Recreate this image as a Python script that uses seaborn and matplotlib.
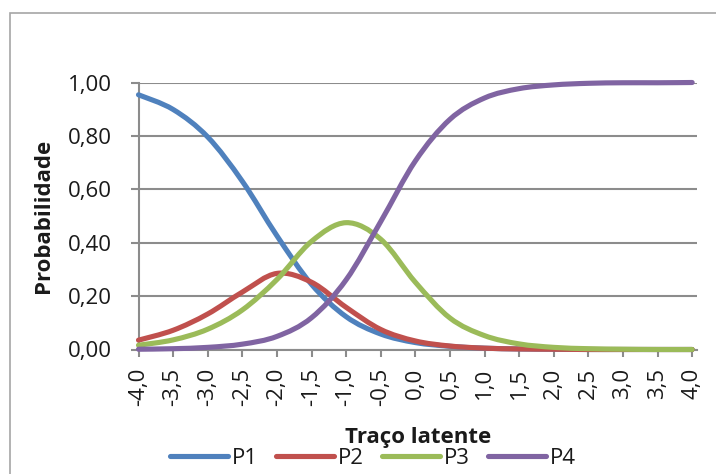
import matplotlib
matplotlib.use("Agg")
import numpy as np
import pandas as pd
import matplotlib.pyplot as plt
import seaborn as sns
from matplotlib.path import Path
from matplotlib.patches import PathPatch, Rectangle
from matplotlib.lines import Line2D
from matplotlib.ticker import FixedLocator, FuncFormatter

# Latent trait values (category axis) and the probability of each response option
theta = [-4.0, -3.5, -3.0, -2.5, -2.0, -1.5, -1.0, -0.5, 0.0,
         0.5, 1.0, 1.5, 2.0, 2.5, 3.0, 3.5, 4.0]
p1 = [0.954, 0.899, 0.796, 0.630, 0.426, 0.244, 0.123, 0.058, 0.026,
      0.012, 0.005, 0.002, 0.001, 0.000, 0.000, 0.000, 0.000]
p2 = [0.035, 0.072, 0.133, 0.215, 0.285, 0.252, 0.158, 0.075, 0.032,
      0.013, 0.005, 0.002, 0.001, 0.000, 0.000, 0.000, 0.000]
p3 = [0.016, 0.036, 0.076, 0.148, 0.262, 0.405, 0.475, 0.413, 0.252,
      0.118, 0.052, 0.021, 0.008, 0.003, 0.001, 0.000, 0.000]
p4 = [0.001, 0.003, 0.008, 0.020, 0.049, 0.119, 0.261, 0.479, 0.706,
      0.862, 0.942, 0.977, 0.991, 0.997, 0.999, 0.999, 1.000]

series_names = ["P1", "P2", "P3", "P4"]
series_colors = ["#4F81BD", "#C0504D", "#9BBB59", "#8064A2"]
y_ticks = [0.0, 0.2, 0.4, 0.6, 0.8, 1.0]

df = pd.DataFrame({
    "theta": theta * 4,
    "prob": p1 + p2 + p3 + p4,
    "item": sum([[n] * len(theta) for n in series_names], []),
})

sns.set_theme(style="white")
plt.rcParams["font.family"] = ["Open Sans", "DejaVu Sans"]

W, H = 716, 474
fig = plt.figure(figsize=(W / 100, H / 100), dpi=100)
left, right, top, bottom = 138.5, 697.0, 82.5, 349.5
ax = fig.add_axes([left / W, 1 - bottom / H, (right - left) / W, (bottom - top) / H])

text_color = "#1a1a1a"
grid_color = "#8c8c8c"
LW = 3.7

sns.lineplot(data=df, x="theta", y="prob", hue="item", palette=series_colors,
             linewidth=LW, legend=False, ax=ax, sort=False)


def smooth_path(xs, ys):
    """Smoothed line: cubic Bezier segments passing through every point."""
    pts = np.column_stack([xs, ys])
    n = len(pts)
    verts = [pts[0]]
    codes = [Path.MOVETO]
    for i in range(n - 1):
        p0 = pts[i - 1] if i > 0 else pts[i]
        pa = pts[i]
        pb = pts[i + 1]
        p3_ = pts[i + 2] if i + 2 < n else pts[i + 1]
        c1 = pa + (pb - p0) / 6.0
        c2 = pb - (p3_ - pa) / 6.0
        verts += [c1, c2, pb]
        codes += [Path.CURVE4] * 3
    return Path(verts, codes)


# Draw each series as a smoothed curve in data coordinates
for line, color in zip(list(ax.lines), series_colors):
    xs, ys = line.get_xdata(), line.get_ydata()
    patch = PathPatch(smooth_path(xs, ys), fill=False, edgecolor=color,
                      linewidth=LW, capstyle="round", joinstyle="round",
                      transform=ax.transData, clip_on=False, zorder=3)
    ax.add_patch(patch)
    line.set_visible(False)

ax.set_xlim(-4.0, 4.07)
ax.set_ylim(0, 1)

ax.xaxis.set_major_locator(FixedLocator(theta))
ax.xaxis.set_major_formatter(FuncFormatter(lambda v, _: f"{v:.1f}".replace(".", ",")))
ax.yaxis.set_major_locator(FixedLocator(y_ticks))
ax.yaxis.set_major_formatter(FuncFormatter(lambda v, _: f"{v:.2f}".replace(".", ",")))

ax.grid(axis="y", color=grid_color, linewidth=1.5)
ax.grid(axis="x", visible=False)
for s in ["top", "right"]:
    ax.spines[s].set_visible(False)
for s in ["left", "bottom"]:
    ax.spines[s].set_color(grid_color)
    ax.spines[s].set_linewidth(1.5)

ax.tick_params(axis="y", direction="out", length=6, width=1.5, color=grid_color,
               pad=13, labelsize=16, labelcolor=text_color, left=True)
ax.tick_params(axis="x", direction="out", length=5, width=1.5, color=grid_color,
               pad=8, labelsize=16, labelcolor=text_color, bottom=True,
               labelrotation=90)
ax.set_xlabel("")
ax.set_ylabel("")

fig.text(44 / W, 1 - 216 / H, "Probabilidade", rotation=90, ha="center",
         va="center", fontsize=16, fontweight="bold", color=text_color)
fig.text(418 / W, 1 - 437 / H, "Traço latente", ha="center", va="center",
         fontsize=16, fontweight="bold", color=text_color)

handles = [Line2D([], [], color=c, linewidth=LW) for c in series_colors]
fig.legend(handles, series_names, loc="center", bbox_to_anchor=(373 / W, 1 - 458 / H),
           ncol=4, frameon=False, fontsize=16, handlelength=2.6,
           handletextpad=0.2, columnspacing=0.8, labelcolor=text_color,
           borderpad=0, borderaxespad=0)

# Chart area border
fig.add_artist(Rectangle((10 / W, -0.1), 1.2, (1 - 13 / H) + 0.1,
                         transform=fig.transFigure, fill=False,
                         edgecolor="#a6a6a6", linewidth=1.2))

fig.savefig("out.png", dpi=100)
